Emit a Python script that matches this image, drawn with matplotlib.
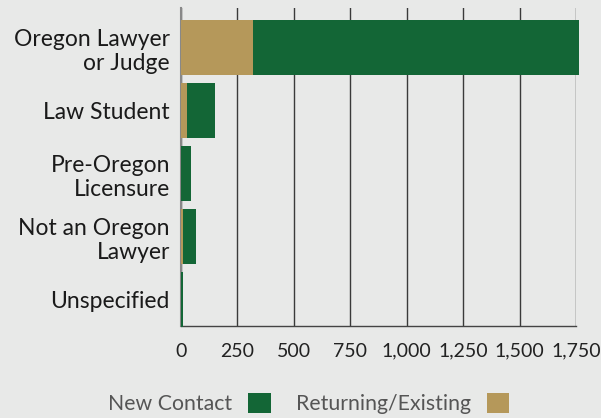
import matplotlib
matplotlib.use("Agg")
import matplotlib.pyplot as plt
from matplotlib.patches import Patch
import numpy as np

categories = ["Oregon Lawyer\nor Judge", "Law Student", "Pre-Oregon\nLicensure",
              "Not an Oregon\nLawyer", "Unspecified"]
returning = [320, 27, 2, 10, 1]
new_contact = [1445, 124, 42, 57, 6]
xticks = [0, 250, 500, 750, 1000, 1250, 1500, 1750]
xtick_labels = ["0", "250", "500", "750", "1,000", "1,250", "1,500", "1,750"]

GREEN = "#136636"
TAN = "#b5985a"
BG = "#e8e9e8"

plt.rcParams['font.family'] = ['Lato', 'DejaVu Sans']

fig = plt.figure(figsize=(6.01, 4.18), dpi=100, facecolor=BG)
ax = fig.add_axes([181/601, 1-326/418, (576-181)/601, (326-8)/418])
ax.set_facecolor(BG)

y = np.arange(len(categories))
ax.barh(y, returning, height=0.87, color=TAN, clip_on=False, zorder=3)
ax.barh(y, new_contact, left=returning, height=0.87, color=GREEN, clip_on=False, zorder=3)

ax.set_xlim(0, 1750)
ax.set_ylim(4.42, -0.627)
ax.set_xticks(xticks)
ax.set_xticklabels(xtick_labels, fontsize=14, color="#222222")
ax.set_yticks(y)
ax.set_yticklabels(categories, fontsize=16.5, color="#1a1a1a", linespacing=1.2)
ax.tick_params(axis='x', length=0, pad=12)
ax.tick_params(axis='y', length=0, pad=8)
ax.xaxis.grid(True, color="#3a3a3a", linewidth=1.0, zorder=0)
ax.set_axisbelow(True)
for s in ['top', 'right']:
    ax.spines[s].set_visible(False)
ax.spines['left'].set_color("#888888")
ax.spines['left'].set_linewidth(1.5)
ax.spines['bottom'].set_color("#444444")
ax.spines['bottom'].set_linewidth(1.0)

handles = [Patch(facecolor=GREEN, label="New Contact"),
           Patch(facecolor=TAN, label="Returning/Existing")]
fig.legend(handles=handles, loc="center", bbox_to_anchor=(0.514, 0.035),
           ncol=2, markerfirst=False, frameon=False, fontsize=15.3,
           handlelength=1.05, handleheight=1.05, handletextpad=0.75,
           columnspacing=1.2, labelcolor="#555555")

fig.savefig("out.png", dpi=100, facecolor=BG)
